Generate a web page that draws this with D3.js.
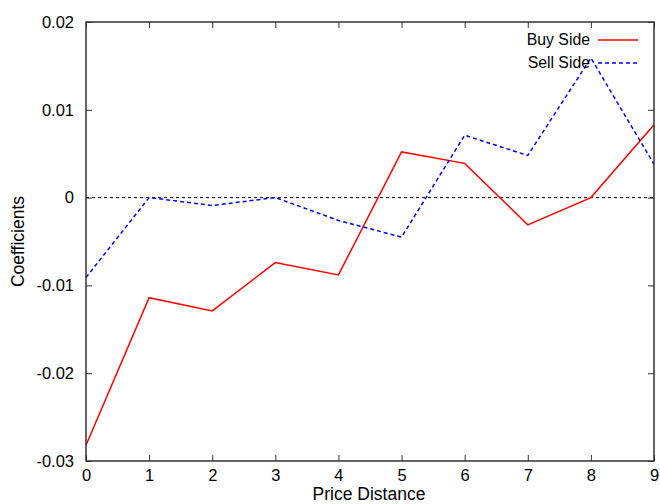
<!DOCTYPE html>
<html><head><meta charset="utf-8">
<script src="https://cdn.jsdelivr.net/npm/d3@7"></script>
<style>body{margin:0;background:#fff}svg{display:block}text{font-family:"Liberation Sans",Arial,sans-serif;fill:#000}</style>
</head><body>
<svg id="c" width="660" height="504"></svg>
<script>
const xTicks = [0,1,2,3,4,5,6,7,8,9];
const yTicks = [-0.03,-0.02,-0.01,0,0.01,0.02];
const yTickLabels = ["-0.03","-0.02","-0.01","0","0.01","0.02"];
const distances = [0,1,2,3,4,5,6,7,8,9];
const buySide = [-0.0282,-0.0114,-0.0129,-0.0074,-0.0088,0.0052,0.0039,-0.0031,0.0000,0.0083];
const sellSide = [-0.0091,0.0000,-0.0009,0.0000,-0.0026,-0.0045,0.0071,0.0048,0.0159,0.0038];
const seriesNames = ["Buy Side","Sell Side"];

const svg = d3.select("#c");
const L=86,R=654,T=22,B=461;
const x = d3.scaleLinear().domain([0,9]).range([L,R]);
const y = d3.scaleLinear().domain([-0.03,0.02]).range([B,T]);
const fs = 16.5;

// zero line
svg.append("line").attr("x1",L).attr("x2",R).attr("y1",y(0)).attr("y2",y(0))
  .attr("stroke","#000").attr("stroke-width",1).attr("stroke-dasharray","3,3");

const line = d3.line().x((d,i)=>x(distances[i])).y(d=>y(d));
svg.append("path").datum(buySide).attr("d",line).attr("fill","none").attr("stroke","#ff0000").attr("stroke-width",1.5);
svg.append("path").datum(sellSide).attr("d",line).attr("fill","none").attr("stroke","#0000ff").attr("stroke-width",1.5).attr("stroke-dasharray","4,3");

// axes with inward ticks
const ax = d3.axisBottom(x).tickValues(xTicks).tickSize(-6).tickPadding(8).tickFormat(d3.format("d"));
const gx = svg.append("g").attr("transform",`translate(0,${B})`).call(ax);
const ay = d3.axisLeft(y).tickValues(yTicks).tickSize(-6).tickPadding(12).tickFormat((d,i)=>yTickLabels[i]);
const gy = svg.append("g").attr("transform",`translate(${L},0)`).call(ay);
const ax2 = d3.axisTop(x).tickValues(xTicks).tickSize(-6).tickFormat("");
const gx2 = svg.append("g").attr("transform",`translate(0,${T})`).call(ax2);
const ay2 = d3.axisRight(y).tickValues(yTicks).tickSize(-6).tickFormat("");
const gy2 = svg.append("g").attr("transform",`translate(${R},0)`).call(ay2);
[gx,gy,gx2,gy2].forEach(g=>{
  g.select(".domain").remove();
  g.selectAll(".tick line").attr("stroke","#333").attr("stroke-width",1);
  g.selectAll("text").attr("font-size",fs).attr("font-family","Liberation Sans, Arial, sans-serif").attr("fill","#000");
});
svg.append("rect").attr("x",L).attr("y",T).attr("width",R-L).attr("height",B-T)
  .attr("fill","none").attr("stroke","#333").attr("stroke-width",1.5);

// labels
svg.append("text").attr("x",369).attr("y",500).attr("text-anchor","middle").attr("font-size",17.5).text("Price Distance");
svg.append("text").attr("transform",`translate(24,${(T+B)/2}) rotate(-90)`).attr("text-anchor","middle").attr("font-size",17.5).text("Coefficients");

// legend
const leg = svg.append("g");
[["#ff0000",null],["#0000ff","4,3"]].forEach((s,i)=>{
  const yy = 40 + i*23;
  leg.append("text").attr("x",590).attr("y",yy+5).attr("text-anchor","end").attr("font-size",15.8).text(seriesNames[i]);
  leg.append("line").attr("x1",598).attr("x2",638).attr("y1",yy).attr("y2",yy)
    .attr("stroke",s[0]).attr("stroke-width",1.5).attr("stroke-dasharray",s[1]);
});
</script>
</body></html>
